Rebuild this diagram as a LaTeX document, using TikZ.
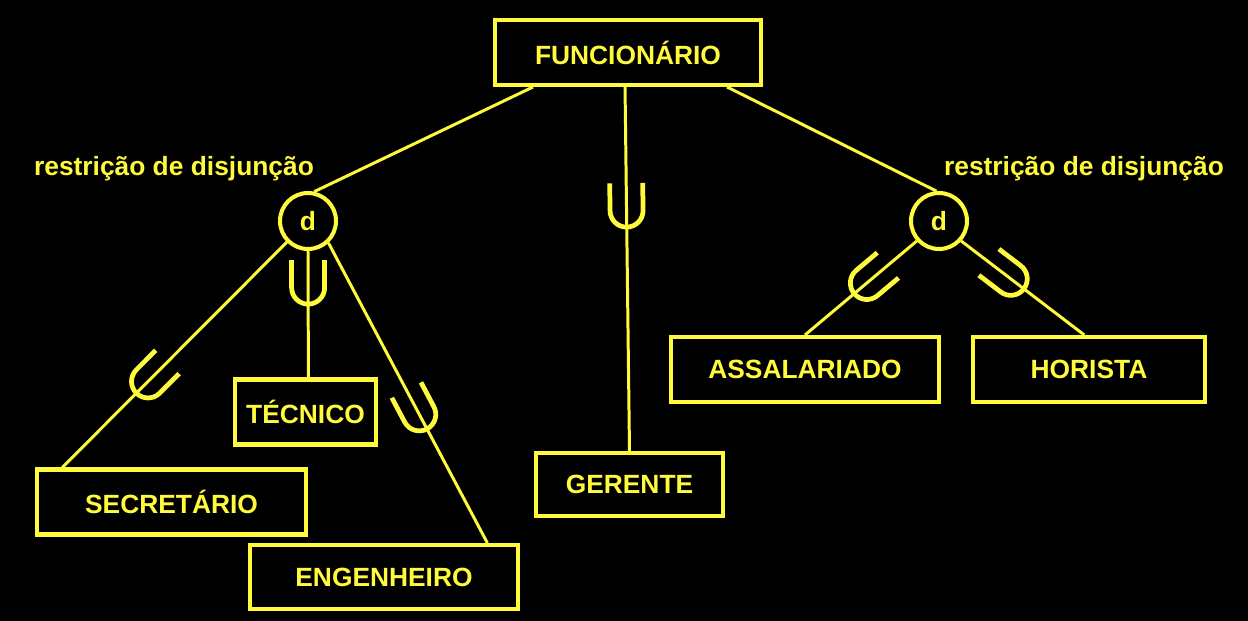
\documentclass[tikz,border=0pt]{standalone}
\usepackage{fontspec}
\setmainfont{Liberation Sans}
\usetikzlibrary{positioning,calc,decorations.markings}
\definecolor{eryellow}{RGB}{255,250,60}

\begin{document}
\begin{tikzpicture}[
    entity/.style={draw=eryellow, line width=2.3pt, minimum width=#1, minimum height=1.30cm, inner sep=0pt, text=eryellow, font=\bfseries\fontsize{15}{18}\selectfont},
    entity/.default=5.3cm,
    disj/.style={draw=eryellow, line width=2.3pt, circle, minimum size=1.12cm, inner sep=0pt, text=eryellow, font=\bfseries\fontsize{15}{18}\selectfont},
    restr/.style={text=eryellow, font=\bfseries\fontsize{15}{18}\selectfont},
    link/.style={draw=eryellow, line width=1.7pt},
    cup/.style={postaction={decorate}, decoration={markings, mark=at position #1 with {
        \draw[eryellow, line width=2.7pt] (-0.88cm,0.33cm) -- (-0.33cm,0.33cm) arc[start angle=90, end angle=-90, radius=0.33cm] -- (-0.88cm,-0.33cm);}}},
]
    % === CANVAS ===
    \fill[black] (0,0) rectangle (24.96,-12.42);
    \useasboundingbox (0,0) rectangle (24.96,-12.42);

    % === SUPERCLASS ===
    \node[entity=5.32cm] (func) at (12.56,-1.05) {FUNCIONÁRIO};

    % === DISJOINTNESS CIRCLES ===
    \node[disj] (dL) at (6.16,-4.42) {d};
    \node[disj] (dR) at (18.78,-4.42) {d};
    \node[restr] (rL) at (3.48,-3.38) {restrição de disjunção};
    \node[restr] (rR) at (21.68,-3.38) {restrição de disjunção};

    % === SUBCLASSES ===
    \node[entity=5.38cm] (sec) at (3.43,-10.04) {SECRETÁRIO};
    \node[entity=2.82cm] (tec) at (6.11,-8.24) {TÉCNICO};
    \node[entity=5.36cm, minimum height=1.28cm] (eng) at (7.68,-11.54) {ENGENHEIRO};
    \node[entity=3.74cm, minimum height=1.26cm] (ger) at (12.59,-9.69) {GERENTE};
    \node[entity=5.36cm] (ass) at (16.10,-7.39) {ASSALARIADO};
    \node[entity=4.64cm] (hor) at (21.78,-7.39) {HORISTA};

    % === LINKS: superclass ===
    \draw[link] ($(func.south west)!0.148!(func.south east)$) -- (dL.78);
    \draw[link] ($(func.south west)!0.867!(func.south east)$) -- (dR.95);
    \draw[link, cup=0.385] ($(func.south west)!0.489!(func.south east)$) -- ($(ger.north west)!0.50!(ger.north east)$);

    % === LINKS: left specialization ===
    \draw[link, cup=0.67] (dL.225) -- ($(sec.north west)!0.10!(sec.north east)$);
    \draw[link, cup=0.42] (dL.south) -- ($(tec.north west)!0.52!(tec.north east)$);
    \draw[link, cup=0.62] (dL.-47) -- ($(eng.north west)!0.88!(eng.north east)$);

    % === LINKS: right specialization ===
    \draw[link, cup=0.56] (dR.222) -- ($(ass.north west)!0.50!(ass.north east)$);
    \draw[link, cup=0.51] (dR.-42) -- ($(hor.north west)!0.48!(hor.north east)$);
\end{tikzpicture}
\end{document}
